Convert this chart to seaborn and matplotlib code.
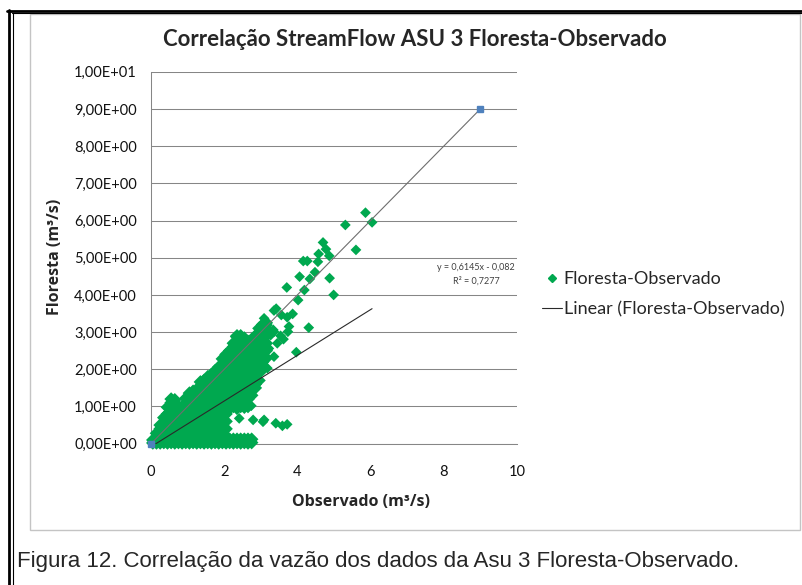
import numpy as np
import pandas as pd
import seaborn as sns
import matplotlib.pyplot as plt
from matplotlib.lines import Line2D
from matplotlib.patches import Rectangle
from matplotlib.ticker import FuncFormatter, MultipleLocator

# dense cloud near the origin, read column by column (x centre -> y values)
blob_x = [0.05, 0.15, 0.25, 0.35, 0.45, 0.55, 0.65, 0.75, 0.85, 0.95, 1.05,
          1.15, 1.25, 1.35, 1.45, 1.55, 1.65, 1.75, 1.85, 1.95, 2.05, 2.15,
          2.25, 2.35, 2.45, 2.55, 2.65, 2.75, 2.85, 2.95, 3.05, 3.15]
blob_y = [
    [0.02, 0.1],
    [0.02, 0.12, 0.28],
    [0.02, 0.2, 0.4, 0.5],
    [0.03, 0.12, 0.3, 0.5, 0.7],
    [0.02, 0.2, 0.4, 0.6, 0.8, 0.98],
    [0.03, 0.12, 0.3, 0.5, 0.7, 0.9, 1.1, 1.2],
    [0.02, 0.2, 0.4, 0.6, 0.8, 1.0, 1.18],
    [0.03, 0.12, 0.3, 0.5, 0.7, 0.9, 1.0],
    [0.02, 0.2, 0.4, 0.6, 0.8, 0.98],
    [0.03, 0.12, 0.3, 0.5, 0.7, 0.9, 1.1, 1.22],
    [0.02, 0.2, 0.4, 0.6, 0.8, 1.0, 1.2, 1.36],
    [0.03, 0.12, 0.3, 0.5, 0.7, 0.9, 1.1, 1.3, 1.41],
    [0.02, 0.2, 0.4, 0.6, 0.8, 1.0, 1.2, 1.4, 1.46],
    [0.03, 0.12, 0.3, 0.5, 0.7, 0.9, 1.1, 1.3, 1.5, 1.66],
    [0.02, 0.2, 0.4, 0.6, 0.8, 1.0, 1.2, 1.4, 1.6, 1.7],
    [0.03, 0.12, 0.3, 0.5, 0.7, 0.9, 1.1, 1.3, 1.5, 1.7, 1.8],
    [0.02, 0.2, 0.4, 0.6, 0.8, 1.0, 1.2, 1.4, 1.6, 1.8, 1.86],
    [0.03, 0.12, 0.3, 0.5, 0.7, 0.9, 1.1, 1.3, 1.5, 1.7, 1.9, 1.96],
    [0.02, 0.2, 0.4, 0.6, 0.8, 1.0, 1.2, 1.4, 1.6, 1.8, 2.0, 2.06],
    [0.03, 0.12, 0.3, 0.5, 0.7, 0.9, 1.1, 1.3, 1.5, 1.7, 1.9, 2.1, 2.28],
    [0.02, 0.2, 0.4, 0.6, 0.8, 1.0, 1.2, 1.4, 1.6, 1.8, 2.0, 2.2, 2.4],
    [0.03, 0.12, 0.95, 1.1, 1.3, 1.5, 1.7, 1.9, 2.1, 2.3, 2.5],
    [0.02, 0.12, 1.0, 1.2, 1.4, 1.6, 1.8, 2.0, 2.2, 2.4, 2.6, 2.7],
    [0.03, 0.12, 0.95, 1.1, 1.3, 1.5, 1.7, 1.9, 2.1, 2.3, 2.5, 2.7, 2.9],
    [0.02, 0.12, 1.0, 1.2, 1.4, 1.6, 1.8, 2.0, 2.2, 2.4, 2.6, 2.8, 2.9],
    [0.03, 0.12, 0.98, 1.1, 1.3, 1.5, 1.7, 1.9, 2.1, 2.3, 2.5, 2.7, 2.84],
    [0.02, 0.12, 1.0, 1.2, 1.4, 1.6, 1.8, 2.0, 2.2, 2.4, 2.6, 2.75],
    [0.03, 0.12, 1.3, 1.5, 1.7, 1.9, 2.1, 2.3, 2.5, 2.7, 2.8],
    [1.5, 1.6, 1.8, 2.0, 2.2, 2.4, 2.6, 2.8, 2.9],
    [1.7, 1.9, 2.1, 2.3, 2.5, 2.7, 2.9, 3.1],
    [2.0, 2.2, 2.4, 2.6, 2.8, 3.0, 3.2],
    [2.3, 2.5, 2.7, 2.9, 3.1, 3.25],
]

# scattered points outside the cloud
out_x = [5.86, 6.04, 5.31, 5.60, 4.70, 4.78, 4.58, 4.87, 4.16, 4.27, 4.56, 4.48,
         4.06, 4.34, 4.88, 3.71, 4.19, 4.99, 4.02, 3.42, 3.36, 3.87, 3.56, 3.72,
         3.09, 3.06, 3.18, 3.77, 3.74, 4.31, 3.34, 3.27, 3.00, 3.54, 2.30, 2.41,
         2.54, 3.97, 3.45, 3.13, 3.18, 3.06, 3.41, 3.59, 3.72, 2.79, 3.09, 2.74,
         2.61, 2.41, 3.36, 3.62, 3.22, 3.36]
out_y = [6.21, 5.95, 5.88, 5.21, 5.41, 5.23, 5.10, 5.05, 4.91, 4.91, 4.89, 4.61,
         4.49, 4.43, 4.45, 4.20, 4.13, 4.00, 3.86, 3.63, 3.58, 3.49, 3.46, 3.40,
         3.37, 3.24, 3.19, 3.15, 3.01, 3.12, 3.06, 2.92, 3.06, 2.90, 2.88, 2.88,
         2.83, 2.46, 2.70, 2.30, 2.03, 0.59, 0.55, 0.48, 0.52, 0.64, 0.64, 1.02,
         1.13, 0.68, 3.01, 2.81, 2.56, 2.34]

# second series (blue squares joined by a line)
ref_x = [0, 9]
ref_y = [0, 9]

# excel trendline as printed on the chart
slope = 0.6145
intercept = -0.082
r2 = 0.7277

green = '#00A84F'
blue = '#4F81BD'
grey = '#868686'

cloud = pd.DataFrame({
    'Observado': [x for x, col in zip(blob_x, blob_y) for _ in col],
    'Floresta': [y for col in blob_y for y in col],
})
loose = pd.DataFrame({'Observado': out_x, 'Floresta': out_y})

sns.set_style('white')
plt.rcParams['font.family'] = ['Lato', 'DejaVu Sans']
label_font = ['Open Sans', 'DejaVu Sans']

W, H = 803, 585
fig = plt.figure(figsize=(W / 100, H / 100), dpi=100)


def fx(px):
    return px / W


def fy(py):
    return 1 - py / H


# page border (thick + thin black lines) and the chart frame
fig.add_artist(Line2D([fx(7), fx(803)], [fy(10.8), fy(10.8)], color='black', lw=2.0))
fig.add_artist(Line2D([fx(12), fx(803)], [fy(13.3), fy(13.3)], color='black', lw=0.8))
fig.add_artist(Line2D([fx(8.7), fx(8.7)], [fy(9.5), fy(585)], color='black', lw=2.0))
fig.add_artist(Line2D([fx(12.7), fx(12.7)], [fy(13), fy(585)], color='black', lw=0.8))
fig.add_artist(Rectangle((fx(30), fy(530)), fx(800) - fx(30), fy(14) - fy(530),
                         transform=fig.transFigure, fill=False, ec='#c4c4c4', lw=1.0))

ax = fig.add_axes([fx(151), fy(443.7), fx(517) - fx(151), fy(71.7) - fy(443.7)])
ax.set_facecolor('none')

# the cloud stands for thousands of overlapping points, so it gets slightly bigger
# markers to close the gaps; seaborn's default white edge is dropped too
sns.scatterplot(data=cloud, x='Observado', y='Floresta', marker='D', s=48, color=green,
                edgecolor='none', linewidth=0, ax=ax, legend=False, zorder=3,
                clip_on=False)
sns.scatterplot(data=loose, x='Observado', y='Floresta', marker='D', s=30, color=green,
                edgecolor='none', linewidth=0, ax=ax, legend=False, zorder=3,
                clip_on=False)

tx = np.array([0, max(out_x)])
ax.plot(tx, slope * tx + intercept, color='#2a2a2a', lw=0.8, zorder=4)
ax.plot(ref_x, ref_y, color='#6e6e6e', lw=0.8, marker='s', ms=5, mfc=blue, mec=blue,
        zorder=5, clip_on=False)

ax.set_xlim(0, 10)
ax.set_ylim(0, 10)
ax.xaxis.set_major_locator(MultipleLocator(2))
ax.yaxis.set_major_locator(MultipleLocator(1))
ax.yaxis.set_major_formatter(FuncFormatter(lambda v, p: f"{v:.2E}".replace('.', ',')))
ax.grid(axis='y', color=grey, lw=0.75)
ax.set_axisbelow(True)
for s in ['top', 'right']:
    ax.spines[s].set_visible(False)
for s in ['left', 'bottom']:
    ax.spines[s].set_color(grey)
    ax.spines[s].set_linewidth(0.75)
ax.tick_params(axis='both', direction='out', length=3.6, width=0.75, color=grey,
               labelsize=10.5, labelcolor='#111111')
ax.tick_params(axis='y', pad=6.5)
ax.tick_params(axis='x', pad=12)
ax.set_xlabel('')
ax.set_ylabel('')

fig.text(fx(415), fy(40), 'Correlação StreamFlow ASU 3 Floresta-Observado',
         ha='center', va='center', fontsize=16, fontweight='bold')
fig.text(fx(361), fy(502), 'Observado (m³/s)', ha='center', va='center',
         fontsize=11.5, fontweight='bold', family=label_font)
fig.text(fx(55), fy(257), 'Floresta (m³/s)', ha='center', va='center', rotation=90,
         fontsize=11.5, fontweight='bold', family=label_font)

fig.text(fx(476), fy(268), f'y = {slope:.4f}x - {abs(intercept):.3f}'.replace('.', ','),
         ha='center', va='center', fontsize=6.5, color='#404040')
fig.text(fx(476), fy(281), f'R² = {r2:.4f}'.replace('.', ','),
         ha='center', va='center', fontsize=6.5, color='#404040')

handles = [Line2D([], [], ls='', marker='D', ms=4, color=green, label='Floresta-Observado'),
           Line2D([], [], color='#2a2a2a', lw=0.8, label='Linear (Floresta-Observado)')]
fig.legend(handles=handles, loc='center left', bbox_to_anchor=(fx(542), fy(294.5)),
           frameon=False, fontsize=13, handlelength=1.1, handletextpad=0.1,
           labelspacing=0.8, borderpad=0, borderaxespad=0)

fig.text(fx(17), fy(561), 'Figura 12. Correlação da vazão dos dados da Asu 3 Floresta-Observado.',
         ha='left', va='center', fontsize=16, family=['Liberation Sans', 'DejaVu Sans'])

fig.savefig('out.png', dpi=100)
